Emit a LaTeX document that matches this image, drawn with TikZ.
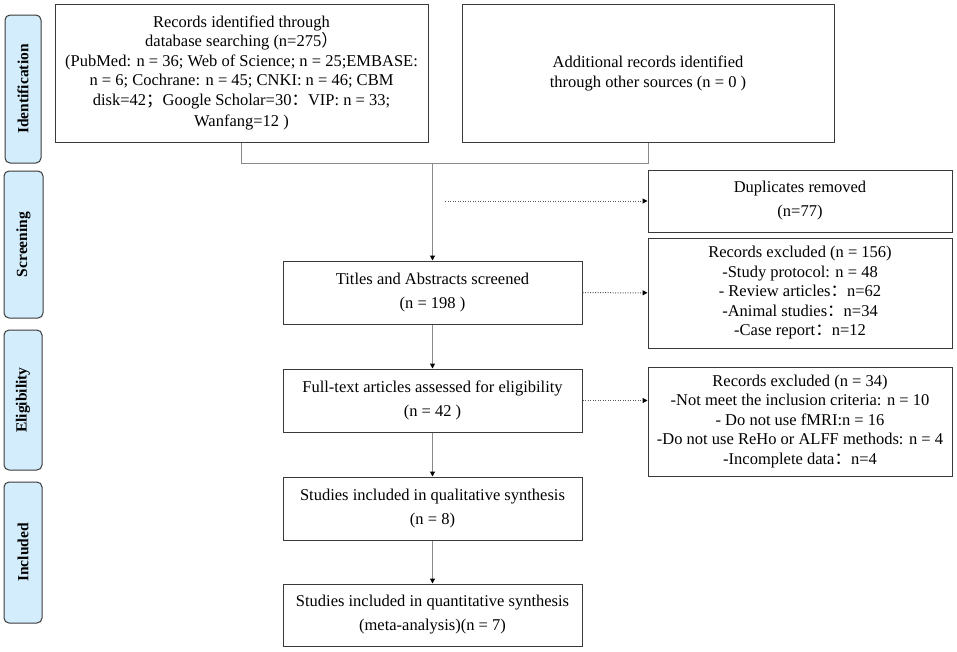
\documentclass[tikz,border=0pt]{standalone}
\usepackage{fontspec}
\setmainfont{Liberation Serif}
\newfontfamily\cjk{Noto Sans CJK SC}
\usetikzlibrary{arrows.meta}
\newcommand{\fwsemi}{{\cjk ；}}
\newcommand{\fwcolon}{{\cjk ：}}
\newcommand{\fwparen}{{\cjk ）}}
\definecolor{phasefill}{HTML}{D4EDFC}
\definecolor{boxline}{HTML}{3A3A3A}
\definecolor{flowline}{HTML}{8A8A8A}
\tikzset{
  recbox/.style={draw=boxline, line width=1pt, align=center, inner sep=2pt,
    font=\fontsize{16.5}{19.5}\selectfont},
  widebox/.style={recbox, font=\fontsize{16.5}{24}\selectfont},
  phase/.style={draw=boxline, line width=1pt, fill=phasefill, rounded corners=5pt,
    rotate=90, font=\bfseries\fontsize{15.5}{17}\selectfont},
  flow/.style={draw=flowline, line width=1pt, -{Triangle[length=5pt,width=5pt,color=black]}},
  side/.style={draw=black!65, line width=1pt, dash pattern=on 1.2pt off 1.3pt, -{Triangle[length=5pt,width=5pt,color=black]}}
}
\begin{document}
\begin{tikzpicture}[x=1pt,y=-1pt]
  \useasboundingbox (0,0) rectangle (957,651);
  % phases
  \node[phase, minimum width=148, minimum height=36] (ident) at (23,89) {Identification};
  \node[phase, minimum width=147, minimum height=39] (screen) at (23.5,244.5) {Screening};
  \node[phase, minimum width=140, minimum height=38] (elig) at (23,400) {Eligibility};
  \node[phase, minimum width=141, minimum height=38] (incl) at (23,552.5) {Included};

  % boxes
  \node[recbox, minimum width=373, minimum height=138] (db) at (241.5,73)
    {Records identified through\\ database searching (n=275\fwparen\\
     (PubMed: n = 36; Web of Science; n = 25;EMBASE:\\
     n = 6; Cochrane: n = 45; CNKI: n = 46; CBM\\
     disk=42\fwsemi Google Scholar=30\fwcolon VIP: n = 33;\\[2pt]
     Wanfang=12 )};
  \node[widebox, minimum width=372, minimum height=138] (other) at (648,73)
    {Additional records identified\\[-4pt] through other sources (n = 0 )};
  \node[widebox, minimum width=304, minimum height=62] (dup) at (800,201)
    {Duplicates removed\\ (n=77)};
  \node[widebox, minimum width=299, minimum height=63] (titles) at (432.5,292.5)
    {Titles and Abstracts screened\\ (n = 198 )};
  \node[recbox, minimum width=304, minimum height=110] (excla) at (800,293)
    {Records excluded (n = 156)\\ -Study protocol: n = 48\\
     - Review articles\fwcolon n=62\\ -Animal studies\fwcolon n=34\\
     -Case report\fwcolon n=12};
  \node[widebox, minimum width=299, minimum height=63] (full) at (432.5,400.5)
    {Full-text articles assessed for eligibility\\ (n = 42 )};
  \node[recbox, minimum width=304, minimum height=109] (exclb) at (800,421.5)
    {Records excluded (n = 34)\\ -Not meet the inclusion criteria: n = 10\\
     - Do not use fMRI:n = 16\\ -Do not use ReHo or ALFF methods: n = 4\\
     -Incomplete data\fwcolon n=4};
  \node[widebox, minimum width=299, minimum height=63] (qual) at (432.5,508.5)
    {Studies included in qualitative synthesis\\ (n = 8)};
  \node[widebox, minimum width=299, minimum height=62] (quant) at (432.5,615)
    {Studies included in quantitative synthesis\\ (meta-analysis)(n = 7)};

  % connectors
  \coordinate (merge) at (432.5,163);
  \coordinate (dupfrom) at (445,201);
  \draw[draw=flowline, line width=1pt] (db.south) -- (db.south |- merge) -- (other.south |- merge) -- (other.south);
  \draw[flow] (merge) -- (titles);
  \draw[side] (dupfrom) -- (dup.west);
  \draw[side] (titles) -- (excla);
  \draw[flow] (titles) -- (full);
  \draw[side] (full.east) -- (full.east -| exclb.west);
  \draw[flow] (full) -- (qual);
  \draw[flow] (qual) -- (quant);
\end{tikzpicture}
\end{document}
